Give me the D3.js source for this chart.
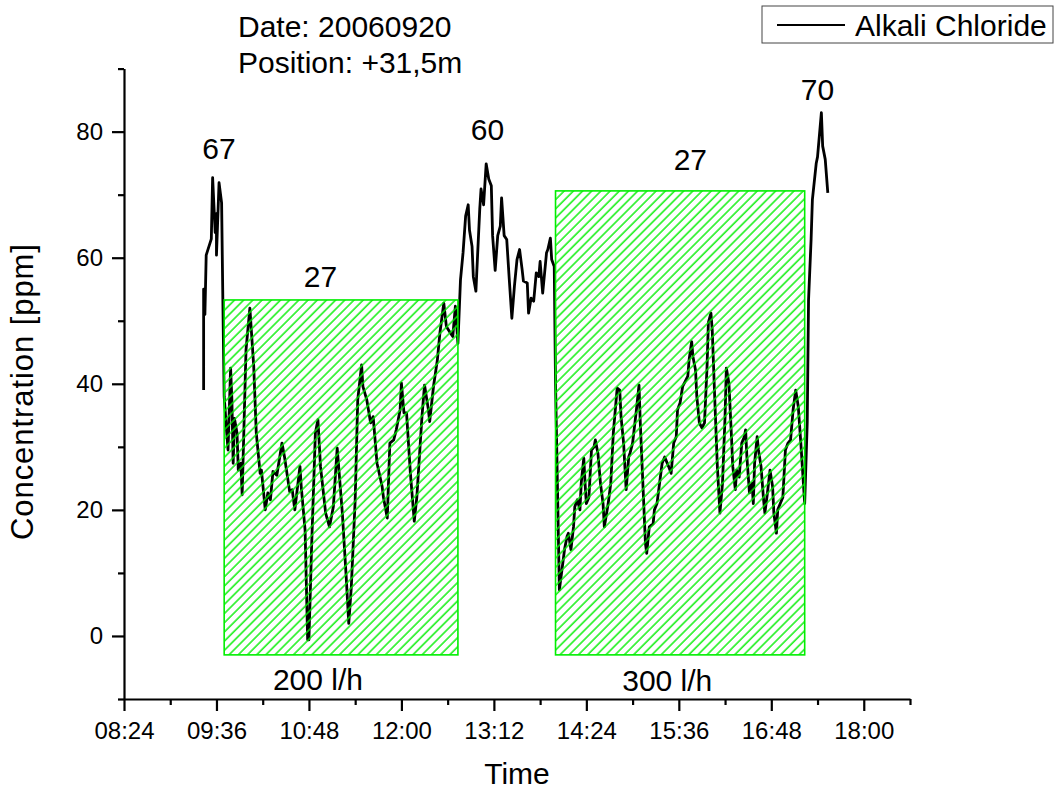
<!DOCTYPE html>
<html>
<head>
<meta charset="utf-8">
<script src="https://cdn.jsdelivr.net/npm/d3@7"></script>
<style>
  body { margin: 0; background: #fff; }
  text { font-family: "Liberation Sans", Arial, Helvetica, sans-serif; fill: #000; }
</style>
</head>
<body>
<div id="chart"></div>
<script>
// Alkali chloride readings, 2006-09-20
const times = [
  "09:26","09:26","09:27","09:28","09:32","09:33","09:35","09:36","09:36","09:38","09:40","09:41","09:42","09:44","09:45","09:47","09:48","09:49","09:50","09:52","09:53","09:55","09:56","09:59",
  "10:02","10:05","10:07","10:10","10:11","10:14","10:16","10:18","10:20","10:23","10:27","10:29","10:33","10:35","10:37","10:41","10:42","10:45","10:47","10:48","10:50","10:53","10:55","10:57",
  "11:01","11:04","11:07","11:10","11:14","11:17","11:19","11:21","11:24","11:26","11:29","11:30","11:33","11:36","11:38","11:41","11:45","11:46","11:49","11:51","11:54","11:56","11:59",
  "12:00","12:02","12:04","12:07","12:10","12:12","12:16","12:18","12:21","12:22","12:25","12:28","12:30","12:33","12:35","12:38","12:40","12:42","12:44","12:46","12:48","12:50","12:52","12:53","12:55","12:56","12:58",
  "13:01","13:02","13:04","13:06","13:08","13:10","13:11","13:13","13:15","13:17","13:18","13:20","13:22","13:24","13:26","13:28","13:30","13:32","13:34","13:35","13:38","13:39","13:41","13:43","13:45","13:47","13:48","13:50","13:53","13:54","13:56","13:57","13:59",
  "14:00","14:03","14:05","14:07","14:09","14:10","14:12","14:14","14:15","14:17","14:19","14:20","14:22","14:23","14:24","14:26","14:28","14:30","14:31","14:33","14:35","14:37","14:38","14:41","14:43","14:45","14:48","14:50","14:51","14:53","14:54","14:55","14:57","14:58",
  "15:00","15:03","15:05","15:06","15:08","15:10","15:11","15:13","15:16","15:17","15:19","15:21","15:23","15:25","15:28","15:30","15:32","15:34","15:35","15:37","15:39","15:41","15:43","15:44","15:46","15:47","15:49","15:50","15:52","15:54","15:56","15:58","15:59",
  "16:01","16:02","16:04","16:06","16:08","16:10","16:12","16:13","16:15","16:17","16:18","16:20","16:21","16:23","16:25","16:27","16:28","16:29","16:31","16:33","16:34","16:35","16:37","16:38","16:40","16:42","16:43","16:45","16:47","16:49","16:50","16:52","16:53","16:55","16:57","16:59",
  "17:01","17:03","17:05","17:07","17:09","17:11","17:13","17:14","17:16","17:17","17:19","17:20","17:23","17:24","17:27","17:28","17:30","17:32"
];
const values = [
  39,55,51,60.4,63,72.7,64,67,60.4,71.9,68.7,52.8,38,32.2,29.5,42.5,37.5,27.4,34.5,32.2,26.3,27.4,22.4,45.4,
  52,42.8,32.2,25.8,26.3,20,22.7,21.6,26.1,25.5,30.6,28.4,22.9,23.2,20,26.9,23.7,16.8,-0.6,-0.6,13.7,32.2,34.3,26.9,
  19.5,17.3,20.5,29.8,19.5,9.4,2,7.8,21.6,37.5,43,39.6,37.5,33.8,34.8,27.4,23.7,22,18.7,30.6,31.1,32.7,35.9,
  40.1,35.4,35.4,25.8,18.2,22,34.8,39.8,35.9,34,39.6,43.8,48.1,52.8,49.1,48.1,47.5,52.3,46.4,56.5,60.8,66.6,68.4,64.4,61.8,57,54.7,
  67.7,70.9,68.4,74.9,72.5,71.4,63.5,58,63.5,65,69.5,63.5,62.9,56.5,50.4,55.5,59.7,61.3,58.1,56.3,56,51.2,53.6,53.1,57.6,57,59.4,54.4,60.8,61.3,63.1,59.7,58.6,
  40.1,7.3,10.5,13.7,15.8,16.3,13.7,17.3,20.5,21.6,20,24.2,28.2,24.2,21,22,29.5,30,31.1,29,24.2,21,17.3,21,24.2,32.2,39.3,39,34.8,30.6,26.9,23.2,28.4,29,
  30.6,35.9,39.8,33.8,24.2,14.7,13.1,17.3,17.8,20,21,24.2,27.4,28.4,26.9,25.8,30.6,31.6,35.9,37,39.6,40.4,41.2,43.8,46.7,44.3,42.2,38,33.8,33,33.8,42.8,49.7,
  51.2,48.6,37.5,26.9,19.5,24.2,34.8,42.5,40.1,31.6,26.9,23.2,26.3,25.2,30.6,31.6,32.7,28.4,22.7,24.2,21,27.4,31.6,29.5,26.9,21.6,19.5,22.7,26.3,23.7,19.5,16.3,20,21,22,29.5,
  30.6,31.1,35.9,39,36.4,30.6,24.2,21,34,53.3,62.9,69.2,75,76,83,77.7,75.6,70.3
];

// flow-rate periods (hatched boxes)
const bandStarts = ["09:42", "14:00"];
const bandEnds = ["12:44", "17:14"];
const bandTops = [53.3, 70.6];
const bandBottoms = [-3, -3];
const bandMeans = ["27", "27"];
const meanLabelTimes = ["10:57", "15:45"];
const meanLabelValues = [55.4, 73.9];
const bandFlows = ["200 l/h", "300 l/h"];
const flowLabelTimes = ["10:55", "15:27"];
const flowLabelValues = [-8.5, -8.8];

// peak annotations
const peakLabels = ["67", "60", "70"];
const peakLabelTimes = ["09:38", "13:07", "17:24"];
const peakLabelValues = [75.6, 78.7, 85];

// axes
const xDomain = ["08:24", "18:36"];
const xMajorTicks = ["08:24", "09:36", "10:48", "12:00", "13:12", "14:24", "15:36", "16:48", "18:00"];
const xMinorTicks = ["09:00", "10:12", "11:24", "12:36", "13:48", "15:00", "16:12", "17:24", "18:36"];
const yDomain = [-10, 90];
const yMajorTicks = [0, 20, 40, 60, 80];
const yMinorTicks = [-10, 10, 30, 50, 70, 90];

const parseTime = d3.timeParse("%H:%M");
const fmtTime = d3.timeFormat("%H:%M");

const width = 1054, height = 791;
const svg = d3.select("#chart").append("svg")
  .attr("width", width)
  .attr("height", height)
  .style("background", "#fff");

const x = d3.scaleTime().domain(xDomain.map(parseTime)).range([124, 910]);
const y = d3.scaleLinear().domain(yDomain).range([699, 68.6]);

// hatch pattern for the boxes
svg.append("defs").append("pattern")
  .attr("id", "hatch")
  .attr("patternUnits", "userSpaceOnUse")
  .attr("width", 6.5)
  .attr("height", 10)
  .attr("patternTransform", "rotate(45)")
  .append("line")
  .attr("x1", 1).attr("y1", 0)
  .attr("x2", 1).attr("y2", 10)
  .style("stroke", "#00ee00")
  .style("stroke-width", 1.4);

// data line
const series = times.map((t, i) => ({ t: parseTime(t), v: values[i] }));
const line = d3.line().x(d => x(d.t)).y(d => y(d.v));

svg.append("path")
  .datum(series)
  .attr("d", line)
  .style("fill", "none")
  .style("stroke", "#000")
  .style("stroke-width", 2.8)
  .style("stroke-linejoin", "round");

// hatched boxes on top of the line
const bands = bandStarts.map((s, i) => ({
  s: parseTime(s), e: parseTime(bandEnds[i]), top: bandTops[i], bottom: bandBottoms[i]
}));
svg.selectAll(".band")
  .data(bands)
  .enter()
  .append("rect")
  .attr("class", "band")
  .attr("x", d => x(d.s))
  .attr("y", d => y(d.top))
  .attr("width", d => x(d.e) - x(d.s))
  .attr("height", d => y(d.bottom) - y(d.top))
  .style("fill", "url(#hatch)")
  .style("stroke", "#00ee00")
  .style("stroke-width", 1.6);

// axes
svg.append("g")
  .attr("transform", `translate(0,${y(yDomain[0])})`)
  .call(d3.axisBottom(x).tickValues(xMajorTicks.map(parseTime))
    .tickFormat(fmtTime).tickSize(12).tickSizeOuter(0).tickPadding(11));
svg.append("g")
  .attr("transform", `translate(0,${y(yDomain[0])})`)
  .call(d3.axisBottom(x).tickValues(xMinorTicks.map(parseTime))
    .tickFormat("").tickSize(6).tickSizeOuter(0))
  .call(g => g.select(".domain").remove());

svg.append("g")
  .attr("transform", `translate(${x(parseTime(xDomain[0]))},0)`)
  .call(d3.axisLeft(y).tickValues(yMajorTicks).tickSize(12).tickSizeOuter(0).tickPadding(9));
svg.append("g")
  .attr("transform", `translate(${x(parseTime(xDomain[0]))},0)`)
  .call(d3.axisLeft(y).tickValues(yMinorTicks).tickFormat("").tickSize(6).tickSizeOuter(0))
  .call(g => g.select(".domain").remove());

svg.selectAll(".domain, .tick line").style("stroke", "#000").style("stroke-width", 2.2);
svg.selectAll(".tick text")
  .style("font-family", "'Liberation Sans', Arial, sans-serif")
  .style("font-size", "24px")
  .style("fill", "#000");

// axis titles
svg.append("text")
  .attr("x", (x.range()[0] + x.range()[1]) / 2)
  .attr("y", 784)
  .attr("text-anchor", "middle")
  .style("font-size", "30px")
  .text("Time");

svg.append("text")
  .attr("transform", "translate(33,392) rotate(-90)")
  .attr("text-anchor", "middle")
  .attr("textLength", 296)
  .attr("lengthAdjust", "spacing")
  .style("font-size", "31px")
  .text("Concentration [ppm]");

// header notes
svg.append("text").attr("x", 238).attr("y", 37).style("font-size", "30px").text("Date: 20060920");
svg.append("text").attr("x", 238).attr("y", 73).style("font-size", "30px").text("Position: +31,5m");

// peak and band labels
const labels = []
  .concat(peakLabels.map((l, i) => ({ l, t: peakLabelTimes[i], v: peakLabelValues[i] })))
  .concat(bandMeans.map((l, i) => ({ l, t: meanLabelTimes[i], v: meanLabelValues[i] })))
  .concat(bandFlows.map((l, i) => ({ l, t: flowLabelTimes[i], v: flowLabelValues[i] })));

svg.selectAll(".note")
  .data(labels)
  .enter()
  .append("text")
  .attr("class", "note")
  .attr("x", d => x(parseTime(d.t)))
  .attr("y", d => y(d.v))
  .attr("text-anchor", "middle")
  .style("font-size", "30px")
  .text(d => d.l);

// legend
const legend = svg.append("g");
legend.append("rect")
  .attr("x", 762).attr("y", 6)
  .attr("width", 291).attr("height", 37)
  .style("fill", "#fff")
  .style("stroke", "#444")
  .style("stroke-width", 1);
legend.append("line")
  .attr("x1", 777).attr("x2", 845)
  .attr("y1", 25).attr("y2", 25)
  .style("stroke", "#000")
  .style("stroke-width", 2);
legend.append("text")
  .attr("x", 855).attr("y", 36)
  .style("font-size", "30px")
  .text("Alkali Chloride");
</script>
</body>
</html>
